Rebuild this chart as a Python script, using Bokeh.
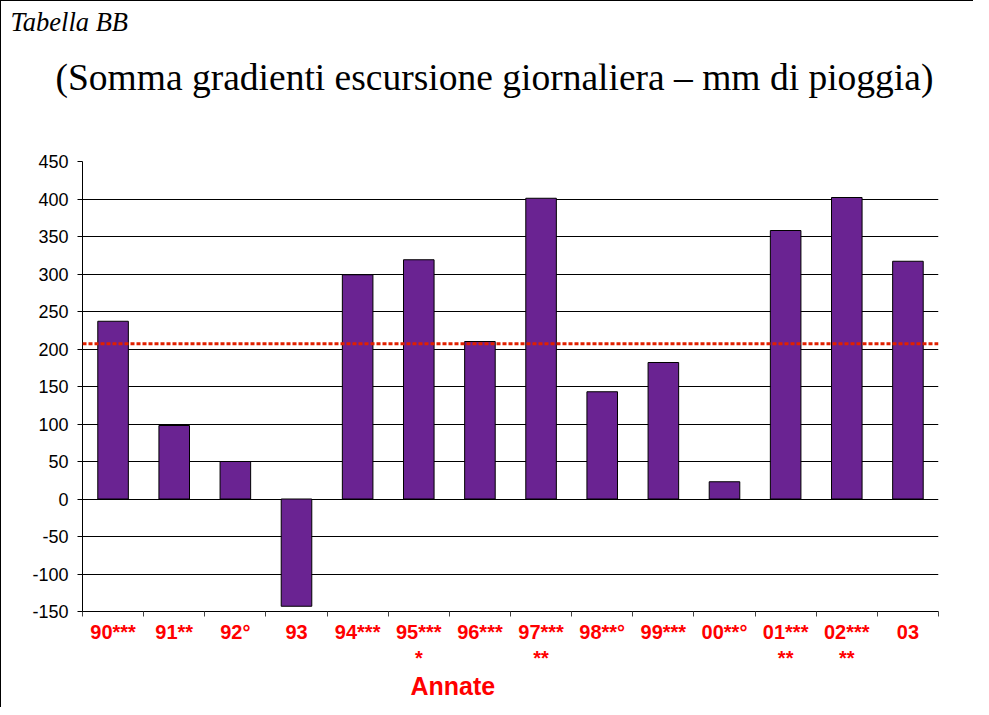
from bokeh.plotting import figure
from bokeh.models import Range1d, FixedTicker, Span, ColumnDataSource, Title
from bokeh.embed import file_html
from bokeh.resources import INLINE

# ---- data ----
years = ["90***", "91**", "92°", "93", "94***", "95***\n*", "96***", "97***\n**",
         "98**°", "99***", "00**°", "01***\n**", "02***\n**", "03"]
values = [237, 98, 50, -143, 299, 319, 210, 401, 143, 182, 23, 358, 402, 317]
average = 207
y_ticks = [-150, -100, -50, 0, 50, 100, 150, 200, 250, 300, 350, 400, 450]
y_tick_labels = ["-150", "-100", "-50", "0", "50", "100", "150", "200", "250",
                 "300", "350", "400", "450"]
subtitle_text = "Tabella BB"
title_text = "(Somma gradienti escursione giornaliera \u2013 mm di pioggia)"
x_axis_title = "Annate"

n = len(years)
positions = [i + 0.5 for i in range(n)]
boundaries = list(range(n + 1))
source = ColumnDataSource(dict(x=positions, top=values))

# canvas sits 1px right/down because of the css border
W, H = 973, 707
FRAME_LEFT, FRAME_RIGHT, FRAME_TOP, FRAME_BOTTOM = 81, 937, 160, 610
p = figure(width=W, height=H, output_backend="svg", toolbar_location=None,
           x_range=Range1d(0, n), y_range=Range1d(y_ticks[0], y_ticks[-1]),
           min_border_left=FRAME_LEFT, min_border_right=W - FRAME_RIGHT,
           min_border_top=FRAME_TOP, min_border_bottom=H - FRAME_BOTTOM)
p.background_fill_color = "white"
p.border_fill_color = "white"
p.outline_line_color = None
p.styles = {"border-left": "1px solid black", "border-top": "1px solid black"}

# titles, stacked from the frame upwards: spacer, main title, "Tabella BB" (p.title)
p.add_layout(Title(text=" ", text_font_size="10px", standoff=30), "above")
p.add_layout(Title(text=title_text, text_font="Liberation Serif",
                   text_font_style="normal", text_font_size="37.5px",
                   text_color="black", align="left", offset=-27,
                   vertical_align="top", standoff=37),
             "above")
p.title.text = subtitle_text
p.title.text_font = "Liberation Serif"
p.title.text_font_size = "26.5px"
p.title.text_font_style = "italic"
p.title.text_color = "black"
p.title.align = "left"
p.title.offset = -72
p.title.vertical_align = "top"
p.title.standoff = 0

# grid
p.xgrid.visible = False
p.ygrid.ticker = FixedTicker(ticks=y_ticks)
p.ygrid.grid_line_color = "black"
p.ygrid.grid_line_width = 1

# y axis
p.yaxis.ticker = FixedTicker(ticks=y_ticks)
p.yaxis.major_label_overrides = {t: l for t, l in zip(y_ticks, y_tick_labels)}
p.yaxis.major_label_text_font = "Liberation Sans"
p.yaxis.major_label_text_font_size = "18px"
p.yaxis.major_label_text_color = "black"
p.yaxis.major_tick_out = 5
p.yaxis.major_tick_in = 0
p.yaxis.minor_tick_out = 0
p.yaxis.minor_tick_in = 0
p.yaxis.major_label_standoff = 9
p.yaxis.axis_line_color = "black"
p.yaxis.major_tick_line_color = "black"

# x axis: labels at category centres, tick marks at category boundaries
p.xaxis.ticker = FixedTicker(ticks=positions, minor_ticks=boundaries)
p.xaxis.major_label_overrides = {x: l for x, l in zip(positions, years)}
p.xaxis.major_label_text_font = "Liberation Sans"
p.xaxis.major_label_text_font_style = "bold"
p.xaxis.major_label_text_font_size = "20px"
p.xaxis.major_label_text_color = "#FF0000"
p.xaxis.major_label_standoff = 4
p.xaxis.major_tick_out = 0
p.xaxis.major_tick_in = 0
p.xaxis.minor_tick_out = 5
p.xaxis.minor_tick_in = 0
p.xaxis.minor_tick_line_color = "#444444"
p.xaxis.axis_line_color = "black"

# x axis title (placed below the axis, left part like the original)
p.add_layout(Title(text=x_axis_title, text_font="Liberation Sans",
                   text_font_style="bold", text_font_size="25px",
                   text_color="#FF0000", align="left", offset=328,
                   vertical_align="top", standoff=0),
             "below")

# bars
p.vbar(x="x", top="top", bottom=0, width=0.5, source=source,
       fill_color="#6A2392", line_color="black", line_width=1)

# average line
p.add_layout(Span(location=average, dimension="width", line_color="#E02000",
                  line_width=3, line_dash="4 2"))

open("out.html", "w").write(file_html(p, INLINE))
